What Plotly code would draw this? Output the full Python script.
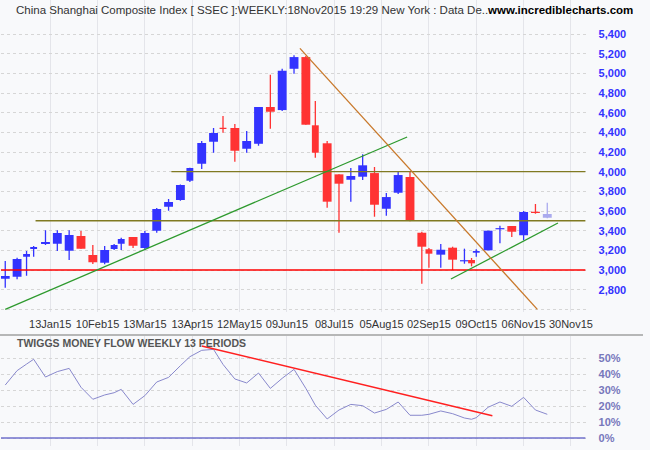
import numpy as np
import plotly.graph_objects as go

# ---------------- data ----------------
# trading days in each weekly bar (bars are spaced by trading days)
trading_days = [5, 5, 4, 3, 5, 5, 5, 5, 5, 5, 4, 3, 5, 5, 5, 5, 5, 4, 5, 5,
                4, 5, 5, 5, 5, 5, 5, 5, 4, 5, 5, 5, 5, 5, 5, 5, 5, 5, 3, 5,
                5, 5, 3, 2, 5, 5, 5, 5, 5, 5]
opens = [2912, 2932, 3135, 3214, 3264, 3267, 3196, 3346, 3153, 3074,
         3214, 3267, 3336, 3224, 3400, 3644, 3712, 3908, 4081, 4305,
         4444, 4444, 4234, 4284, 4658, 4627, 5047, 5166, 4472, 4289,
         3973, 3918, 3949, 3986, 3623, 3786, 3946, 3379, 3211, 3156,
         3227, 3088, 3102, 3176, 3200, 3414, 3447, 3353, 3593, 3532]
highs = [3092, 3125, 3193, 3244, 3404, 3404, 3404, 3397, 3254, 3244,
         3264, 3328, 3336, 3397, 3630, 3722, 3870, 4040, 4312, 4444,
         4566, 4485, 4414, 4658, 4986, 5047, 5184, 5178, 4719, 4312,
         3973, 4037, 4177, 4048, 3783, 4000, 4000, 3390, 3224, 3264,
         3237, 3217, 3122, 3210, 3400, 3450, 3447, 3600, 3671, 3684]
lows = [2820, 2905, 2942, 3135, 3254, 3193, 3102, 3217, 3061, 3058,
        3203, 3203, 3224, 3203, 3380, 3603, 3705, 3895, 4027, 4193,
        4396, 4101, 4193, 4264, 4437, 4617, 4996, 4478, 4142, 3634,
        3379, 3695, 3915, 3542, 3552, 3773, 3495, 2861, 3023, 3023,
        3000, 3064, 3037, 3135, 3200, 3271, 3336, 3302, 3573, 3526]
closes = [2939, 3112, 3163, 3234, 3285, 3376, 3356, 3217, 3078, 3203,
          3254, 3315, 3247, 3376, 3620, 3692, 3864, 4037, 4292, 4393,
          4434, 4213, 4312, 4658, 4610, 5027, 5166, 4478, 4193, 3695,
          3878, 3956, 4065, 3664, 3742, 3966, 3505, 3237, 3166, 3206,
          3105, 3098, 3068, 3193, 3400, 3424, 3390, 3590, 3580, 3570]
money_flow = [33.1, 42.1, 46.2, 49.2, 38.1, 41.5, 43.5, 31.7, 24.2, 26.9,
              28.3, 30.4, 21.0, 26.5, 35.0, 37.9, 45.2, 50.8, 54.8, 55.4,
              46.0, 36.9, 34.4, 40.6, 31.0, 37.3, 42.9, 31.0, 20.5, 11.9,
              17.5, 21.0, 20.2, 15.6, 17.9, 22.5, 14.2, 14.2, 14.8, 16.9,
              15.2, 12.5, 11.7, 12.7, 19.2, 22.5, 19.8, 25.4, 17.5, 14.8]
tick_labels = ["13Jan15", "10Feb15", "13Mar15", "13Apr15", "12May15", "09Jun15",
               "08Jul15", "05Aug15", "02Sep15", "09Oct15", "06Nov15", "30Nov15"]
tick_first_day = 19
tick_step_days = 20
price_ticks = [2600, 2800, 3000, 3200, 3400, 3600, 3800, 4000, 4200, 4400,
               4600, 4800, 5000, 5200, 5400]
mf_ticks = [0, 10, 20, 30, 40, 50]

# trend / support lines (trading-day index, value)
green_long = ([0, 169.8], [2600, 4353])
green_short = ([188.3, 233.5], [2908, 3478])
orange_down = ([124.5, 224.8], [5255, 2600])
support_3000_start = -1.8
support_3500_start = 12.8
resist_4000_start = 70.2
mf_red = ([83.0, 205.8], [57.5, 13.9])

# ---------------- derived ----------------
days = np.array(trading_days)
x = np.cumsum(days) - days[0]
n = len(x)
o = np.array(opens, float); c = np.array(closes, float)
h = np.array(highs, float); l = np.array(lows, float)
widths = np.where(days < 5, 2.9, 3.75)

X_MIN, X_MAX = -1.8, 245.2
Y_MIN, Y_MAX = 2572.7, 5746.7
M_MIN, M_MAX = -5.0, 63.75

UP = "#3333ff"; DOWN = "#ff3333"; LAST = "#aaaaee"
FONT = "Liberation Sans, Arial, sans-serif"

fig = go.Figure()

groups = {"up": [], "down": [], "last": []}
for i in range(n):
    if i == n - 1:
        groups["last"].append(i)
    elif c[i] >= o[i]:
        groups["up"].append(i)
    else:
        groups["down"].append(i)
colors = {"up": UP, "down": DOWN, "last": LAST}

for g, idx in groups.items():
    if not idx:
        continue
    wx, wy = [], []
    for i in idx:
        wx += [x[i], x[i], None]
        wy += [l[i], h[i], None]
    fig.add_trace(go.Scatter(x=wx, y=wy, mode="lines",
                             line=dict(color=colors[g], width=1.3),
                             xaxis="x", yaxis="y", hoverinfo="skip"))
    base = np.minimum(o[idx], c[idx])
    hgt = np.maximum(np.abs(c[idx] - o[idx]), 12)
    fig.add_trace(go.Bar(x=x[idx], y=hgt, base=base, width=widths[idx],
                         marker=dict(color=colors[g], line=dict(width=0)),
                         xaxis="x", yaxis="y", hoverinfo="skip"))

# horizontal support/resistance lines
fig.add_trace(go.Scatter(x=[support_3000_start, X_MAX], y=[3000, 3000], mode="lines",
                         line=dict(color="#ff0000", width=1.5), xaxis="x", yaxis="y"))
fig.add_trace(go.Scatter(x=[support_3500_start, X_MAX], y=[3500, 3500], mode="lines",
                         line=dict(color="#807a22", width=1.5), xaxis="x", yaxis="y"))
fig.add_trace(go.Scatter(x=[resist_4000_start, X_MAX], y=[4000, 4000], mode="lines",
                         line=dict(color="#807a22", width=1.2), xaxis="x", yaxis="y"))
# trend lines
for (tx, ty), col in [(green_long, "#2e9a2e"), (green_short, "#2e9a2e"),
                      (orange_down, "#c8782a")]:
    fig.add_trace(go.Scatter(x=tx, y=ty, mode="lines",
                             line=dict(color=col, width=1.3), xaxis="x", yaxis="y"))

# lower panel
fig.add_trace(go.Scatter(x=[X_MIN, X_MAX], y=[0, 0], mode="lines",
                         line=dict(color="#7070cc", width=1.5), xaxis="x2", yaxis="y2"))
fig.add_trace(go.Scatter(x=x, y=money_flow, mode="lines",
                         line=dict(color="#8888cc", width=1), xaxis="x2", yaxis="y2"))
fig.add_trace(go.Scatter(x=mf_red[0], y=mf_red[1], mode="lines",
                         line=dict(color="#ff2020", width=1.5), xaxis="x2", yaxis="y2"))

tickvals = [tick_first_day + tick_step_days * k for k in range(len(tick_labels))]

grid_v = "#e4e5ea"
grid_h = "#d6d6d6"
fig.update_layout(
    width=650, height=450,
    margin=dict(l=0, r=0, t=0, b=0),
    paper_bgcolor="#f8f9fb", plot_bgcolor="#f8f9fb",
    showlegend=False, barmode="overlay", hovermode=False,
    font=dict(family=FONT),
    xaxis=dict(domain=[1 / 650, 592 / 650], range=[X_MIN, X_MAX],
               tickmode="array", tickvals=tickvals, ticktext=tick_labels,
               tickfont=dict(size=11, color="#333333", family=FONT),
               showgrid=True, gridcolor=grid_v, gridwidth=1,
               zeroline=False, showline=False, ticks="", ticklabelstandoff=4,
               anchor="y"),
    yaxis=dict(domain=[1 - 312 / 450, 1], range=[Y_MIN, Y_MAX], side="right",
               tickmode="array", tickvals=price_ticks,
               ticktext=["" if v == 2600 else "<b>{:,}</b>".format(v) for v in price_ticks],
               tickfont=dict(size=11, color="#3333ff", family=FONT),
               showgrid=True, gridcolor=grid_h, griddash="dot", gridwidth=1,
               zeroline=False, showline=False, ticks="", ticklabelstandoff=12,
               anchor="x"),
    xaxis2=dict(domain=[1 / 650, 592 / 650], range=[X_MIN, X_MAX],
                tickmode="array", tickvals=tickvals, showticklabels=False,
                showgrid=True, gridcolor=grid_v, gridwidth=1,
                zeroline=False, showline=False, ticks="", anchor="y2"),
    yaxis2=dict(domain=[4 / 450, 114 / 450], range=[M_MIN, M_MAX], side="right",
                tickmode="array", tickvals=mf_ticks,
                ticktext=["<b>{}%</b>".format(v) for v in mf_ticks],
                tickfont=dict(size=11, color="#7777bb", family=FONT),
                showgrid=True, gridcolor=grid_h, griddash="dot", gridwidth=1,
                zeroline=False, showline=False, ticks="", ticklabelstandoff=12,
                anchor="x2"),
    shapes=[dict(type="line", xref="paper", yref="paper", x0=0, x1=1,
                 y0=1 - 335 / 450, y1=1 - 335 / 450,
                 line=dict(color="#a0a0a0", width=1.5))],
    annotations=[
        dict(text="China Shanghai Composite Index [ SSEC ]:WEEKLY:18Nov2015 19:29 New York : Data De..",
             xref="paper", yref="paper", x=14 / 650, y=1 - 10 / 450,
             xanchor="left", yanchor="middle", showarrow=False,
             font=dict(size=11.5, color="#333333", family=FONT)),
        dict(text="<b>www.incrediblecharts.com</b>",
             xref="paper", yref="paper", x=642 / 650, y=1 - 10 / 450,
             xanchor="right", yanchor="middle", showarrow=False,
             font=dict(size=11.5, color="#000000", family=FONT)),
        dict(text="<b>TWIGGS MONEY FLOW WEEKLY 13 PERIODS</b>",
             xref="paper", yref="paper", x=15 / 650, y=1 - 343 / 450,
             xanchor="left", yanchor="middle", showarrow=False,
             font=dict(size=10.5, color="#555555", family=FONT)),
    ],
)

fig.write_html("out.html",
               config={"displayModeBar": False, "staticPlot": True},
               post_script="document.body.style.margin='0px';document.body.style.overflow='hidden';")
